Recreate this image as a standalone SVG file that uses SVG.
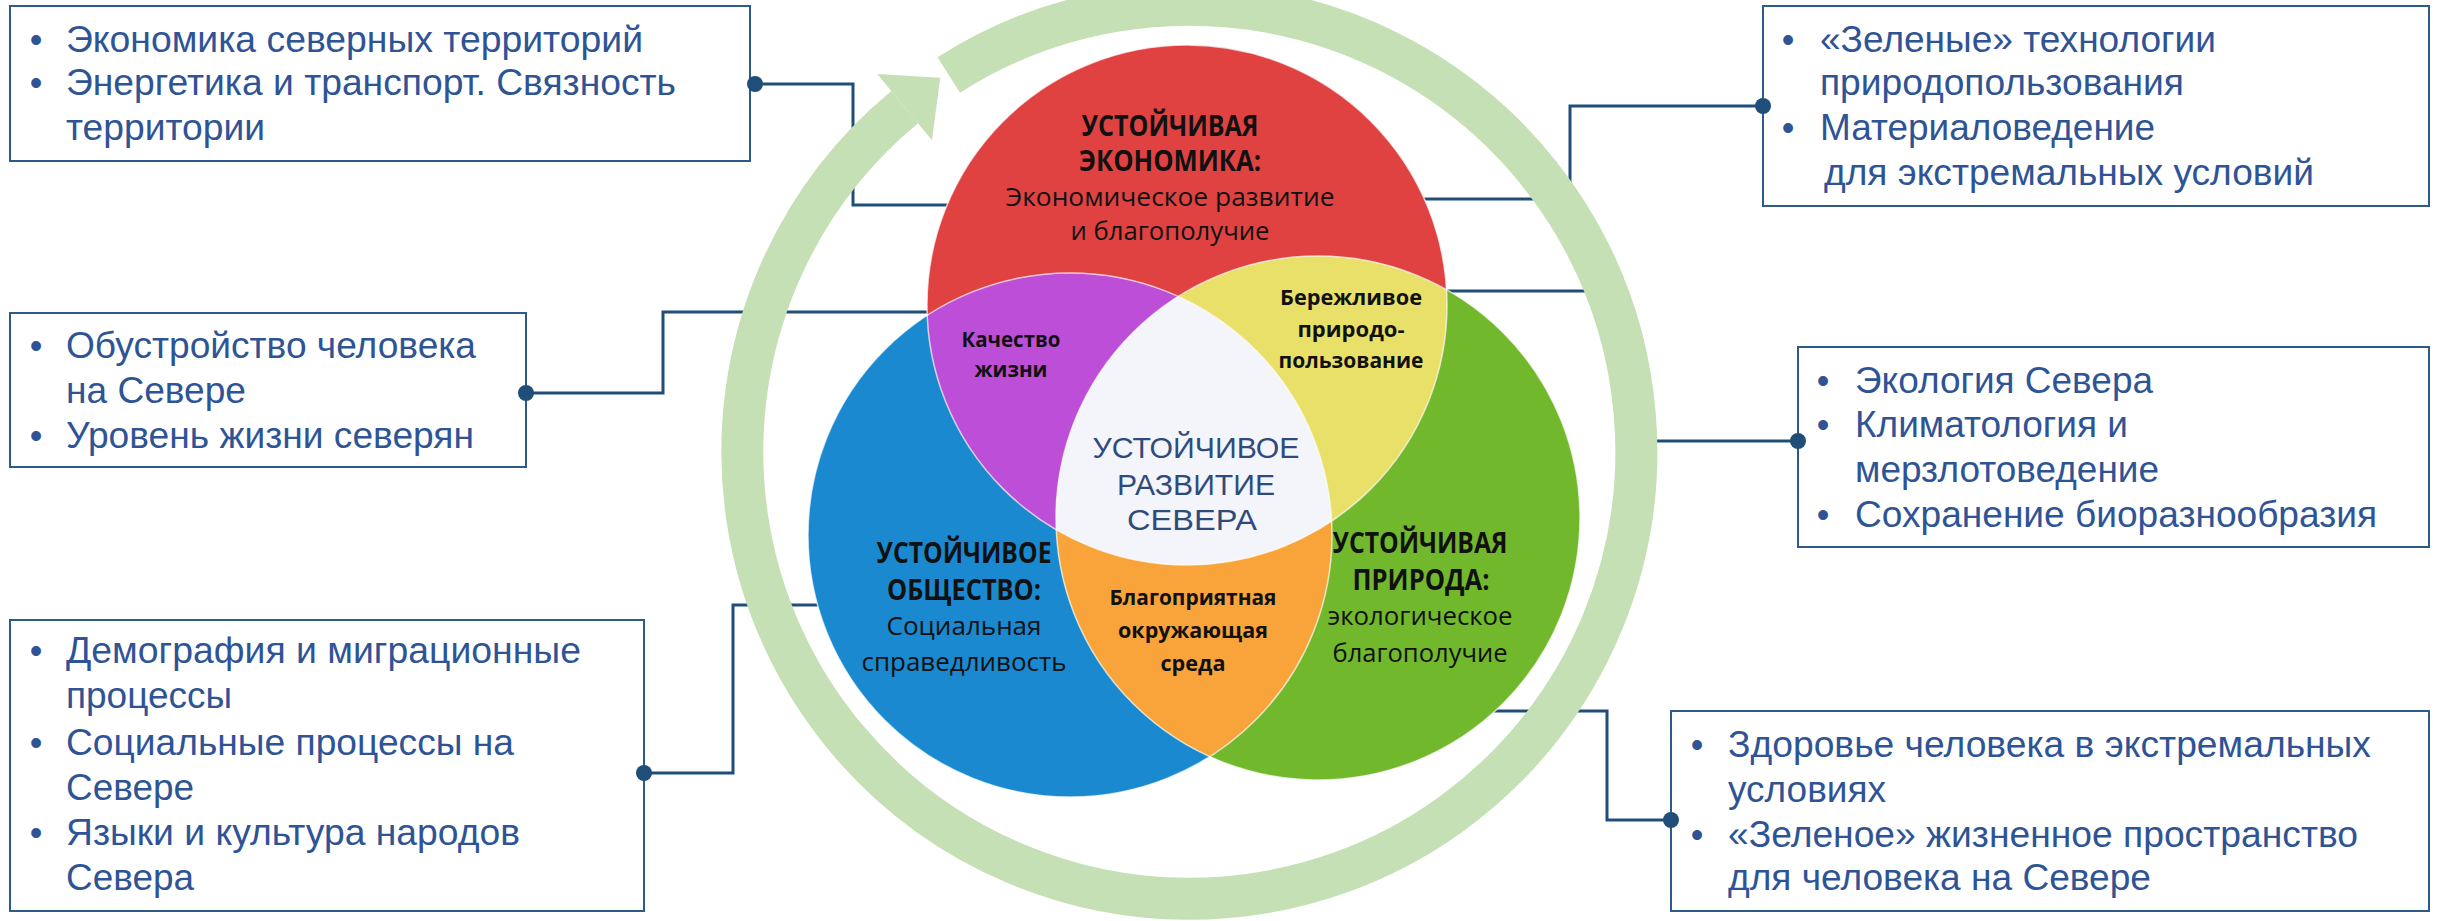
<svg xmlns="http://www.w3.org/2000/svg" width="2440" height="921" viewBox="0 0 2440 921">
<style>
.box{fill:#ffffff;stroke:#2e5a88;stroke-width:2}
.bt{font-family:"Liberation Sans",Arial,sans-serif;font-size:36px;fill:#2f5496}
.bul{font-family:"Liberation Sans",Arial,sans-serif;font-size:36px;fill:#2f5496;text-anchor:middle}
.conn{fill:none;stroke:#1f4e79;stroke-width:3}
.dot{fill:#1f4e79}
.vh{font-family:"Open Sans","Noto Sans",sans-serif;font-weight:700;font-size:28px;fill:#111111;text-anchor:middle}
.vs{font-family:"Open Sans","Noto Sans",sans-serif;font-weight:400;font-size:26px;fill:#111111;text-anchor:middle}
.vi{font-family:"Open Sans","Noto Sans",sans-serif;font-weight:700;font-size:22px;fill:#111111;text-anchor:middle}
.core{font-family:"Liberation Sans",Arial,sans-serif;font-size:30px;fill:#2f4b7c;text-anchor:middle}
.ring{fill:none;stroke:#c5e0b4;stroke-width:42}
.edge{fill:none;stroke:#ffffff;stroke-opacity:0.7;stroke-width:1.5}
</style>
<defs>
<clipPath id="clipR"><circle cx="1187" cy="305" r="260"/></clipPath>
<clipPath id="clipB"><circle cx="1070" cy="535" r="262"/></clipPath>
<clipPath id="clipG"><circle cx="1318" cy="518" r="262"/></clipPath>
</defs>
<rect width="2440" height="921" fill="#ffffff"/>

<g id="box-economy">
<rect class="box" x="10" y="6" width="740" height="155"/>
<text class="bul" x="36" y="52">•</text>
<text class="bul" x="36" y="95">•</text>
<text class="bt" x="66" y="52" textLength="577" lengthAdjust="spacingAndGlyphs">Экономика северных территорий</text>
<text class="bt" x="66" y="95" textLength="610" lengthAdjust="spacingAndGlyphs">Энергетика и транспорт. Связность</text>
<text class="bt" x="66" y="140" textLength="199" lengthAdjust="spacingAndGlyphs">территории</text>
</g>

<g id="box-human">
<rect class="box" x="10" y="313" width="516" height="154"/>
<text class="bul" x="36" y="358">•</text>
<text class="bul" x="36" y="448">•</text>
<text class="bt" x="66" y="358" textLength="410" lengthAdjust="spacingAndGlyphs">Обустройство человека</text>
<text class="bt" x="66" y="403" textLength="180" lengthAdjust="spacingAndGlyphs">на Севере</text>
<text class="bt" x="66" y="448" textLength="408" lengthAdjust="spacingAndGlyphs">Уровень жизни северян</text>
</g>

<g id="box-society">
<rect class="box" x="10" y="620" width="634" height="291"/>
<text class="bul" x="36" y="663">•</text>
<text class="bul" x="36" y="755">•</text>
<text class="bul" x="36" y="845">•</text>
<text class="bt" x="66" y="663" textLength="515" lengthAdjust="spacingAndGlyphs">Демография и миграционные</text>
<text class="bt" x="66" y="708" textLength="166" lengthAdjust="spacingAndGlyphs">процессы</text>
<text class="bt" x="66" y="755" textLength="448" lengthAdjust="spacingAndGlyphs">Социальные процессы на</text>
<text class="bt" x="66" y="800" textLength="128" lengthAdjust="spacingAndGlyphs">Севере</text>
<text class="bt" x="66" y="845" textLength="454" lengthAdjust="spacingAndGlyphs">Языки и культура народов</text>
<text class="bt" x="66" y="890" textLength="128" lengthAdjust="spacingAndGlyphs">Севера</text>
</g>

<g id="box-tech">
<rect class="box" x="1763" y="6" width="666" height="200"/>
<text class="bul" x="1788" y="52">•</text>
<text class="bul" x="1788" y="140">•</text>
<text class="bt" x="1820" y="52" textLength="396" lengthAdjust="spacingAndGlyphs">«Зеленые» технологии</text>
<text class="bt" x="1820" y="95" textLength="364" lengthAdjust="spacingAndGlyphs">природопользования</text>
<text class="bt" x="1820" y="140" textLength="335" lengthAdjust="spacingAndGlyphs">Материаловедение</text>
<text class="bt" x="1824" y="185" textLength="490" lengthAdjust="spacingAndGlyphs">для экстремальных условий</text>
</g>

<g id="box-ecology">
<rect class="box" x="1798" y="347" width="631" height="200"/>
<text class="bul" x="1823" y="393">•</text>
<text class="bul" x="1823" y="437">•</text>
<text class="bul" x="1823" y="527">•</text>
<text class="bt" x="1855" y="393" textLength="298" lengthAdjust="spacingAndGlyphs">Экология Севера</text>
<text class="bt" x="1855" y="437" textLength="273" lengthAdjust="spacingAndGlyphs">Климатология и</text>
<text class="bt" x="1855" y="482" textLength="304" lengthAdjust="spacingAndGlyphs">мерзлотоведение</text>
<text class="bt" x="1855" y="527" textLength="522" lengthAdjust="spacingAndGlyphs">Сохранение биоразнообразия</text>
</g>

<g id="box-health">
<rect class="box" x="1671" y="711" width="758" height="200"/>
<text class="bul" x="1697" y="757">•</text>
<text class="bul" x="1697" y="847">•</text>
<text class="bt" x="1728" y="757" textLength="643" lengthAdjust="spacingAndGlyphs">Здоровье человека в экстремальных</text>
<text class="bt" x="1728" y="802" textLength="158" lengthAdjust="spacingAndGlyphs">условиях</text>
<text class="bt" x="1728" y="847" textLength="630" lengthAdjust="spacingAndGlyphs">«Зеленое» жизненное пространство</text>
<text class="bt" x="1728" y="890" textLength="423" lengthAdjust="spacingAndGlyphs">для человека на Севере</text>
</g>

<g id="connectors">
<path class="conn" d="M755 84 H853 V205 H952"/>
<path class="conn" d="M526 393 H663 V312 H932"/>
<path class="conn" d="M644 773 H733 V605 H822"/>
<path class="conn" d="M1763 106 H1570 V199 H1420"/>
<path class="conn" d="M1798 441 H1620 V291 H1444"/>
<path class="conn" d="M1671 820 H1607 V711 H1490"/>
<circle class="dot" cx="755" cy="84" r="8"/>
<circle class="dot" cx="526" cy="393" r="8"/>
<circle class="dot" cx="644" cy="773" r="8"/>
<circle class="dot" cx="1763" cy="106" r="8"/>
<circle class="dot" cx="1798" cy="441" r="8"/>
<circle class="dot" cx="1671" cy="820" r="8"/>
</g>

<g id="cycle-arrow">
<path class="ring" d="M948.8 75.0 A447 447 0 1 1 904.7 107.1"/>
<polygon fill="#c5e0b4" points="877.3,73.9 932.0,140.3 940.2,77.8"/>
</g>

<g id="venn">
<g id="society">
<circle cx="1070" cy="535" r="262" fill="#1a89cf"/>
</g>
<g id="nature">
<circle cx="1318" cy="518" r="262" fill="#72b82c"/>
</g>
<g id="economy">
<circle cx="1187" cy="305" r="260" fill="#e04242"/>
</g>
<g id="quality-of-life">
<circle cx="1070" cy="535" r="262" fill="#bc4ed8" clip-path="url(#clipR)"/>
</g>
<g id="thrifty-use">
<circle cx="1318" cy="518" r="262" fill="#e8e068" clip-path="url(#clipR)"/>
</g>
<g id="environment">
<circle cx="1318" cy="518" r="262" fill="#f8a43a" clip-path="url(#clipB)"/>
</g>
<g id="core">
<g clip-path="url(#clipB)"><circle cx="1318" cy="518" r="262" fill="#f4f5fb" clip-path="url(#clipR)"/></g>
</g>
<circle class="edge" cx="1070" cy="535" r="262"/>
<circle class="edge" cx="1318" cy="518" r="262"/>
<circle class="edge" cx="1187" cy="305" r="260"/>

<g id="economy-text">
<text class="vh" x="1170" y="136" textLength="177" lengthAdjust="spacingAndGlyphs">УСТОЙЧИВАЯ</text>
<text class="vh" x="1170" y="171" textLength="182" lengthAdjust="spacingAndGlyphs">ЭКОНОМИКА:</text>
<text class="vs" x="1170" y="206" textLength="329" lengthAdjust="spacingAndGlyphs">Экономическое развитие</text>
<text class="vs" x="1170" y="240" textLength="199" lengthAdjust="spacingAndGlyphs">и благополучие</text>
</g>
<g id="quality-text">
<text class="vi" x="1011" y="347" textLength="99" lengthAdjust="spacingAndGlyphs">Качество</text>
<text class="vi" x="1011" y="377" textLength="73" lengthAdjust="spacingAndGlyphs">жизни</text>
</g>
<g id="thrifty-text">
<text class="vi" x="1351" y="305" textLength="142" lengthAdjust="spacingAndGlyphs">Бережливое</text>
<text class="vi" x="1351" y="337" textLength="107" lengthAdjust="spacingAndGlyphs">природо-</text>
<text class="vi" x="1351" y="368" textLength="145" lengthAdjust="spacingAndGlyphs">пользование</text>
</g>
<g id="core-text">
<text class="core" x="1196" y="458" textLength="207" lengthAdjust="spacingAndGlyphs">УСТОЙЧИВОЕ</text>
<text class="core" x="1196" y="495" textLength="158" lengthAdjust="spacingAndGlyphs">РАЗВИТИЕ</text>
<text class="core" x="1192" y="530" textLength="130" lengthAdjust="spacingAndGlyphs">СЕВЕРА</text>
</g>
<g id="society-text">
<text class="vh" x="964" y="563" textLength="175" lengthAdjust="spacingAndGlyphs">УСТОЙЧИВОЕ</text>
<text class="vh" x="964" y="600" textLength="154" lengthAdjust="spacingAndGlyphs">ОБЩЕСТВО:</text>
<text class="vs" x="964" y="635" textLength="155" lengthAdjust="spacingAndGlyphs">Социальная</text>
<text class="vs" x="964" y="671" textLength="205" lengthAdjust="spacingAndGlyphs">справедливость</text>
</g>
<g id="environment-text">
<text class="vi" x="1193" y="605" textLength="167" lengthAdjust="spacingAndGlyphs">Благоприятная</text>
<text class="vi" x="1193" y="638" textLength="150" lengthAdjust="spacingAndGlyphs">окружающая</text>
<text class="vi" x="1193" y="671" textLength="65" lengthAdjust="spacingAndGlyphs">среда</text>
</g>
<g id="nature-text">
<text class="vh" x="1420" y="553" textLength="175" lengthAdjust="spacingAndGlyphs">УСТОЙЧИВАЯ</text>
<text class="vh" x="1421" y="590" textLength="137" lengthAdjust="spacingAndGlyphs">ПРИРОДА:</text>
<text class="vs" x="1420" y="625" textLength="185" lengthAdjust="spacingAndGlyphs">экологическое</text>
<text class="vs" x="1420" y="662" textLength="175" lengthAdjust="spacingAndGlyphs">благополучие</text>
</g>
</g>
</svg>
